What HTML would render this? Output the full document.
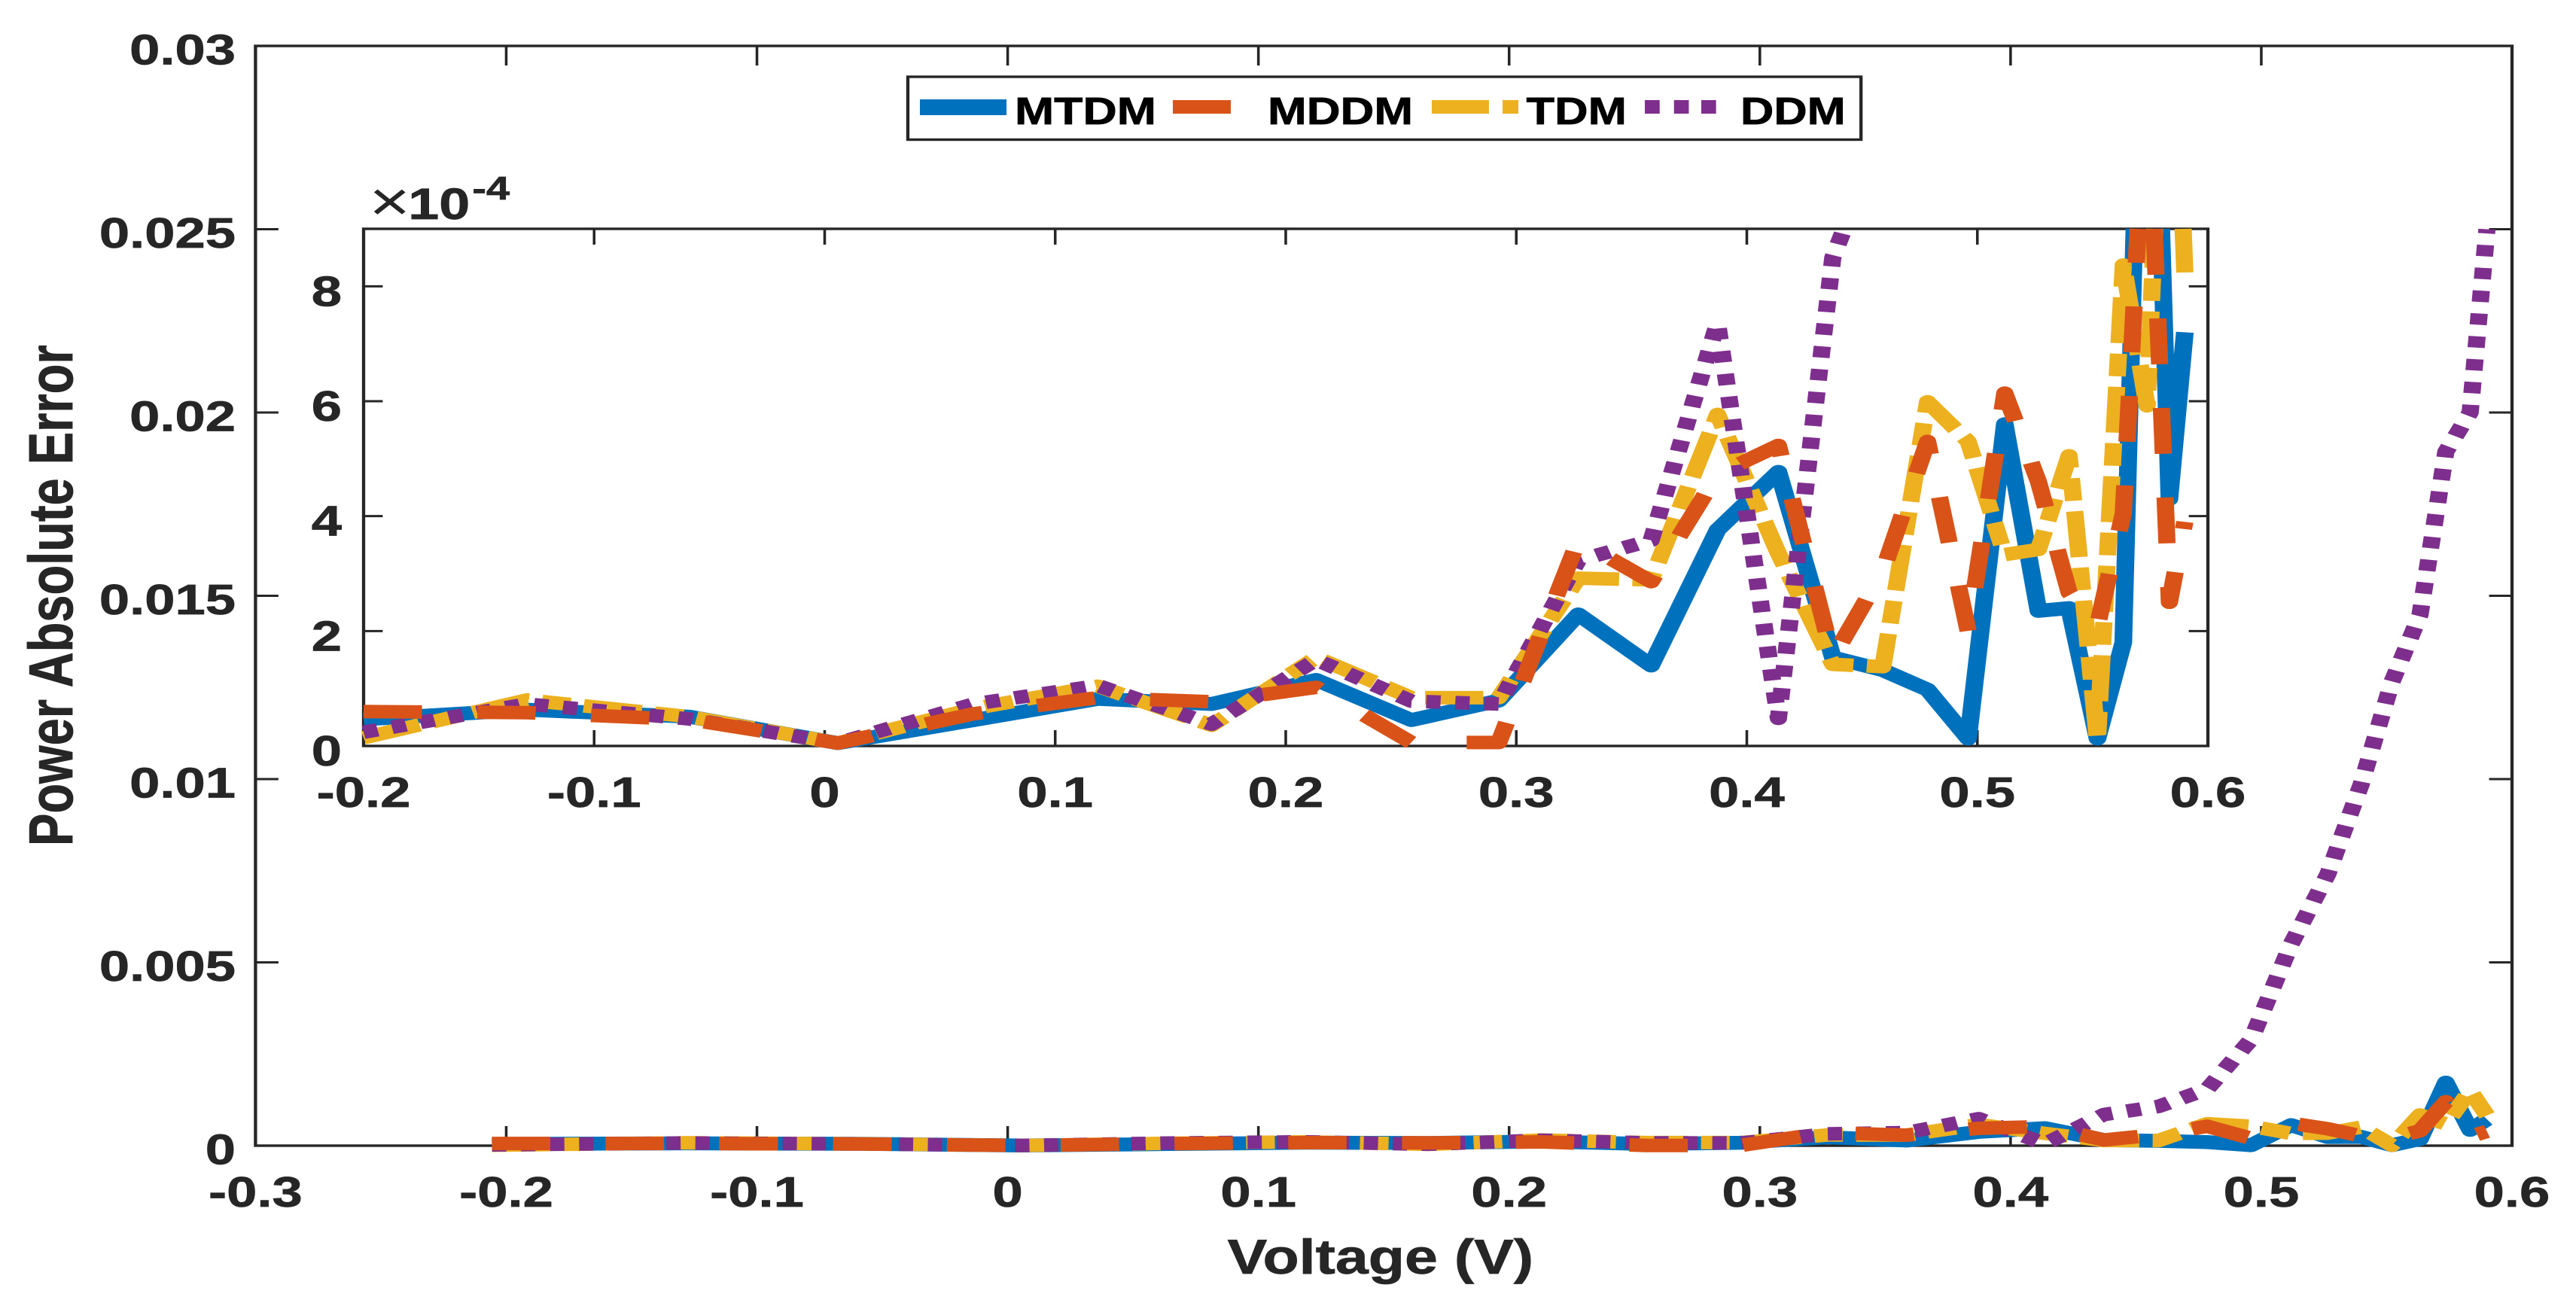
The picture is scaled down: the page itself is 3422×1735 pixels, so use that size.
<!DOCTYPE html>
<html lang="en">
<head>
<meta charset="utf-8">
<title>Power Absolute Error vs Voltage</title>
<style>
html,body{margin:0;padding:0;background:#fff;width:3422px;height:1735px;overflow:hidden}
svg{display:block}
text{font-family:"Liberation Sans",Arial,sans-serif;font-weight:bold;fill:#262626;stroke:#262626;stroke-width:0.7px}
</style>
</head>
<body>
<svg id="chart" xmlns="http://www.w3.org/2000/svg" width="3422" height="1735" viewBox="0 0 2694.488 1735" preserveAspectRatio="none">
  <rect x="0" y="0" width="2694.488" height="1735" fill="#ffffff"/>
  <g id="main-axes"></g>
  <g id="main-lines" fill="none"></g>
  <g id="inset-axes"></g>
  <g id="inset-lines" fill="none"></g>

  <text x="1284" y="1692" font-size="65" textLength="320" lengthAdjust="spacingAndGlyphs">Voltage (V)</text>
  <text transform="translate(75.5,1124) rotate(-90)" font-size="65">Power Absolute Error</text>

  <text x="386" y="293" font-size="74" style="font-weight:normal;stroke-width:0">×</text>
  <text x="427" y="291" font-size="58">10</text>
  <text x="494" y="265" font-size="44">-4</text>

  <g>
    <rect x="949.6" y="102" width="997" height="83.5" fill="#ffffff" stroke="#262626" stroke-width="3.4"/>
    <g>
      <rect x="962.2" y="132" width="90.6" height="21" fill="#0072BD"/>
      <text x="1061.4" y="165" font-size="51" style="fill:#000;stroke:#000" textLength="148" lengthAdjust="spacingAndGlyphs">MTDM</text>
    </g>
    <g>
      <rect x="1226.8" y="133" width="60.6" height="18" fill="#D95319"/>
      <text x="1326" y="165" font-size="51" style="fill:#000;stroke:#000" textLength="152" lengthAdjust="spacingAndGlyphs">MDDM</text>
    </g>
    <g>
      <rect x="1497.6" y="133" width="59.8" height="18" fill="#EDB120"/>
      <rect x="1571.7" y="133" width="16.5" height="18" fill="#EDB120"/>
      <text x="1596.5" y="165" font-size="51" style="fill:#000;stroke:#000" textLength="105" lengthAdjust="spacingAndGlyphs">TDM</text>
    </g>
    <g>
      <rect x="1720.5" y="133" width="15.5" height="18" fill="#7E2F8E"/>
      <rect x="1751" y="133" width="15.5" height="18" fill="#7E2F8E"/>
      <rect x="1779.5" y="133" width="15.5" height="18" fill="#7E2F8E"/>
      <text x="1820.5" y="165" font-size="51" style="fill:#000;stroke:#000" textLength="110" lengthAdjust="spacingAndGlyphs">DDM</text>
    </g>
  </g>
</svg>

<script>
// ----- data (errors in units of 1e-4) -----
const voltage = [-0.2057,-0.1291,-0.0588,0.0057,0.0646,0.1185,0.1678,0.2132,0.2545,0.2924,0.3269,0.3585,0.3873,0.4137,0.4373,0.4590,0.4784,0.4960,0.5119,0.5265,0.5398,0.5521,0.5633,0.5736,0.5833,0.5900];
const mtdm = [0.45,0.63,0.51,0.05,0.45,0.82,0.73,1.15,0.45,0.79,2.29,1.40,3.76,4.77,1.54,1.32,0.98,0.13,5.6,2.35,2.4,0.13,1.8,17.2,4.3,7.2];
const mddm = [0.6,0.58,0.46,0.05,0.56,0.84,0.77,1.02,0.06,0.06,3.58,2.86,4.73,5.23,1.54,3.04,5.3,2.0,6.14,4.6,2.67,2.1,4.05,12,2.5,3.9];
const tdm = [0.09,0.8,0.51,0.05,0.65,1.04,0.36,1.54,0.84,0.84,2.92,2.89,5.77,3.35,1.42,1.38,5.99,5.3,3.33,3.42,5.05,0.1,8.37,5.92,15,8.24];
const ddm = [0.2,0.73,0.47,0.05,0.73,1.05,0.38,1.5,0.78,0.73,3.23,3.58,7.36,0.48,8.5,10.7,15.4,29,55,74,98.5,126.5,144.8,189.3,200,250];

const mainXTicks = [-0.3,-0.2,-0.1,0,0.1,0.2,0.3,0.4,0.5,0.6];
const mainXLabels = ['-0.3','-0.2','-0.1','0','0.1','0.2','0.3','0.4','0.5','0.6'];
const mainYTicks = [0,0.005,0.01,0.015,0.02,0.025,0.03];
const mainYLabels = ['0','0.005','0.01','0.015','0.02','0.025','0.03'];
const insetXTicks = [-0.2,-0.1,0,0.1,0.2,0.3,0.4,0.5,0.6];
const insetXLabels = ['-0.2','-0.1','0','0.1','0.2','0.3','0.4','0.5','0.6'];
const insetYTicks = [0,2,4,6,8];
const insetYLabels = ['0','2','4','6','8'];

// ----- geometry -----
const NS = 'http://www.w3.org/2000/svg';
const SX = 1.27;
const INK = '#262626';
const seriesDefs = [
  {name:'mtdm', values:mtdm, color:'#0072BD', dash:'', width:18.5},
  {name:'tdm',  values:tdm,  color:'#EDB120', dash:'61 14 30 14', width:18},
  {name:'ddm',  values:ddm,  color:'#7E2F8E', dash:'15 15.4', width:18},
  {name:'mddm', values:mddm, color:'#D95319', dash:'61 58', width:18}
];

function axisScale(d0, d1, p0, p1){
  return function(v){ return p0 + (v - d0) * (p1 - p0) / (d1 - d0); };
}
const mainBox = {l:339.4/SX, r:3337/SX, t:61, b:1522};
const insetBox = {l:483/SX, r:2933/SX, t:304, b:991};
const mainX = axisScale(-0.3, 0.6, mainBox.l, mainBox.r);
const mainY = axisScale(0, 0.03, mainBox.b, mainBox.t);
const insetX = axisScale(-0.2, 0.6, insetBox.l, insetBox.r);
const insetY = axisScale(0, 9, insetBox.b, insetBox.t);

function mk(tag, attrs, parent){
  const el = document.createElementNS(NS, tag);
  for (const k in attrs) el.setAttribute(k, attrs[k]);
  parent.appendChild(el);
  return el;
}

// clip a polyline to a box; each visible run becomes its own sub-path
function clipPolyline(pts, box){
  const runs = [];
  let cur = null;
  for (let i = 0; i < pts.length - 1; i++){
    const a = pts[i], b = pts[i+1];
    const dx = b[0]-a[0], dy = b[1]-a[1];
    let t0 = 0, t1 = 1, ok = true;
    const tests = [[-dx, a[0]-box.l],[dx, box.r-a[0]],[-dy, a[1]-box.t],[dy, box.b-a[1]]];
    for (const t of tests){
      const p = t[0], q = t[1];
      if (p === 0){ if (q < 0) ok = false; }
      else {
        const r = q / p;
        if (p < 0){ if (r > t0) t0 = r; }
        else { if (r < t1) t1 = r; }
      }
    }
    if (!ok || t0 > t1){ cur = null; continue; }
    const s = [a[0]+t0*dx, a[1]+t0*dy], e = [a[0]+t1*dx, a[1]+t1*dy];
    if (!cur || t0 > 0){ cur = [s]; runs.push(cur); }
    cur.push(e);
    if (t1 < 1) cur = null;
  }
  return runs;
}

function drawSeries(group, prefix, xf, yf, unit, box){
  seriesDefs.forEach(function(s){
    const pts = voltage.map(function(v, i){ return [xf(v), yf(s.values[i] * unit)]; });
    const runs = clipPolyline(pts, box);
    const g = mk('g', {}, group);
    
    
    runs.forEach(function(run){
      const d = run.map(function(p, i){ return (i ? 'L' : 'M') + p[0].toFixed(2) + ' ' + p[1].toFixed(2); }).join(' ');
      const attrs = {d:d, stroke:s.color, 'stroke-width':s.width, 'stroke-linejoin':'round', 'stroke-linecap':'butt', fill:'none'};
      if (s.dash) attrs['stroke-dasharray'] = s.dash;
      const p = mk('path', attrs, g);
      
      
    });
  });
}

function drawAxes(group, prefix, box, xf, yf, xTicks, xLabels, yTicks, yLabels, cfg){
  const frame = mk('rect', {x:box.l, y:box.t, width:box.r-box.l, height:box.b-box.t, fill:'#ffffff', stroke:INK, 'stroke-width':3.4}, group);
  
  
  xTicks.forEach(function(v, i){
    const x = xf(v);
    const tb = mk('line', {x1:x, x2:x, y1:box.b, y2:box.b-cfg.xLen, stroke:INK, 'stroke-width':2.8}, group);
    
    
    const tt = mk('line', {x1:x, x2:x, y1:box.t, y2:box.t+cfg.xLen, stroke:INK, 'stroke-width':2.8}, group);
    
    
    const lab = mk('text', {x:x, y:cfg.xBase, 'font-size':57, 'text-anchor':'middle'}, group);
    lab.textContent = xLabels[i];
    
    
  });
  yTicks.forEach(function(v, i){
    const y = yf(v);
    const tl = mk('line', {x1:box.l, x2:box.l+cfg.yLen, y1:y, y2:y, stroke:INK, 'stroke-width':3}, group);
    
    
    const tr = mk('line', {x1:box.r, x2:box.r-cfg.yLen, y1:y, y2:y, stroke:INK, 'stroke-width':3}, group);
    
    
    const lab = mk('text', {x:cfg.yRight, y:y+cfg.yOff, 'font-size':57, 'text-anchor':'end'}, group);
    lab.textContent = yLabels[i];
    
    
  });
}

drawAxes(document.getElementById('main-axes'), 'main', mainBox, mainX, mainY,
  mainXTicks, mainXLabels, mainYTicks, mainYLabels,
  {xLen:26, yLen:24, xBase:1603, yRight:313/SX, yOff:24.5});
drawSeries(document.getElementById('main-lines'), 'main', mainX, mainY, 1e-4,
  {l:mainBox.l, r:mainBox.r, t:mainBox.t, b:mainBox.b + 40});
drawAxes(document.getElementById('inset-axes'), 'inset', insetBox, insetX, insetY,
  insetXTicks, insetXLabels, insetYTicks, insetYLabels,
  {xLen:21, yLen:20, xBase:1072, yRight:454/SX, yOff:26});
drawSeries(document.getElementById('inset-lines'), 'inset', insetX, insetY, 1,
  {l:insetBox.l, r:insetBox.r, t:insetBox.t, b:insetBox.b + 40});
</script>
</body>
</html>
